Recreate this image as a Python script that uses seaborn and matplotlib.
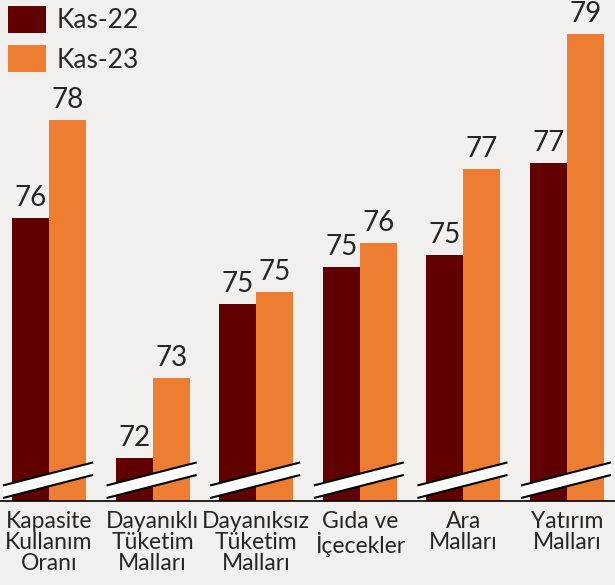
import pandas as pd
import matplotlib
matplotlib.use("Agg")
import matplotlib.pyplot as plt
import matplotlib.transforms as mtransforms
from matplotlib.patches import Polygon
import seaborn as sns

categories = [
    "Kapasite\nKullanım\nOranı",
    "Dayanıklı\nTüketim\nMalları",
    "Dayanıksız\nTüketim\nMalları",
    "Gıda ve\nİçecekler",
    "Ara\nMalları",
    "Yatırım\nMalları",
]
kas22 = [76.0, 72.1, 74.6, 75.2, 75.4, 76.9]
kas23 = [77.6, 73.4, 74.8, 75.6, 76.8, 79.0]
periods = ["Kas-22", "Kas-23"]
colors = ["#600000", "#ED7D31"]
bg = "#F2F0EF"

df = pd.DataFrame({
    "kategori": categories * 2,
    "donem": [periods[0]] * len(categories) + [periods[1]] * len(categories),
    "deger": kas22 + kas23,
})

sns.set_style("white")
plt.rcParams["font.family"] = ["Lato", "DejaVu Sans"]

fig = plt.figure(figsize=(6.15, 5.85), dpi=100, facecolor=bg)
ax = fig.add_axes([0, 84 / 585, 1, 501 / 585])
ax.set_facecolor(bg)

sns.barplot(data=df, x="kategori", y="deger", hue="donem", palette=colors,
            width=0.714, linewidth=0, saturation=1, ax=ax)

ax.set_ylim(71.4, 79.55)
ax.set_xlim(-0.473, 5.463)

for cont in ax.containers:
    vals = [b.get_height() for b in cont]
    ax.bar_label(cont, labels=[f"{v:.0f}" for v in vals], padding=5, fontsize=20)

# broken axis marks
trans = mtransforms.blended_transform_factory(ax.transData, ax.transAxes)
for i in range(len(categories)):
    x0, x1 = i - 0.444, i + 0.425
    lo0, lo1 = 0.006, 0.052
    hi0, hi1 = 0.031, 0.077
    ax.add_patch(Polygon([[x0, lo0], [x1, lo1], [x1, hi1], [x0, hi0]],
                         closed=True, facecolor="white", edgecolor="none",
                         transform=trans, zorder=5))
    ax.plot([x0, x1], [lo0, lo1], color="black", lw=1.5, transform=trans, zorder=6,
            solid_capstyle="butt")
    ax.plot([x0, x1], [hi0, hi1], color="black", lw=1.5, transform=trans, zorder=6,
            solid_capstyle="butt")

sns.despine(ax=ax, left=True, top=True, right=True)
ax.spines["bottom"].set_color("black")
ax.spines["bottom"].set_linewidth(1.2)
ax.set_yticks([])
ax.set_xlabel("")
ax.set_ylabel("")
ax.tick_params(axis="x", length=0, pad=7, labelsize=16.5)
for lbl in ax.get_xticklabels():
    lbl.set_linespacing(1.0)
    lbl.set_verticalalignment("top")

ax.legend(loc="upper left", bbox_to_anchor=(8 / 615, 1 - 6 / 501), frameon=False,
          fontsize=19, handlelength=1.44, handleheight=1.2, handletextpad=0.4,
          labelspacing=0.45, borderpad=0, borderaxespad=0, title=None)

fig.savefig("out.png", dpi=100, facecolor=bg)
